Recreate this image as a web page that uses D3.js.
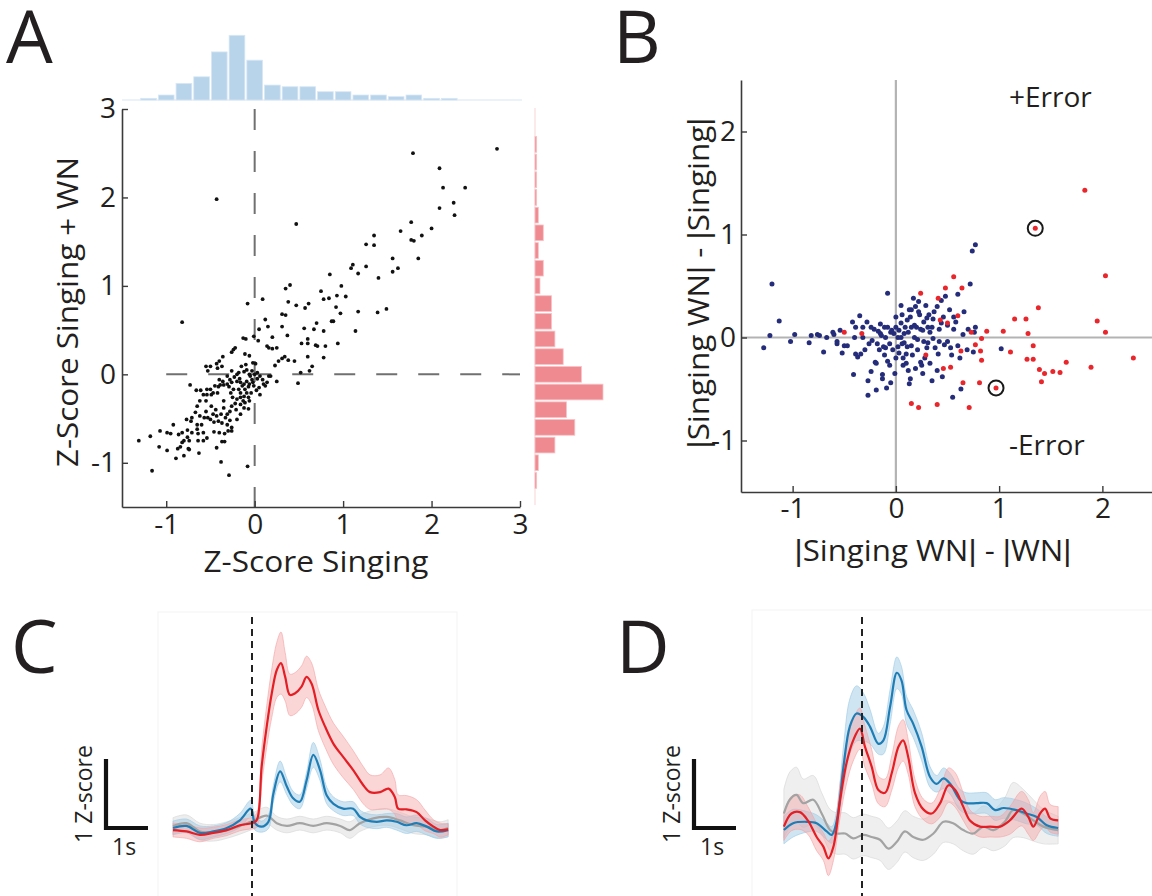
<!DOCTYPE html>
<html>
<head>
  <meta charset="utf-8">
  <script src="https://d3js.org/d3.v7.min.js"></script>
</head>

<style>
body { margin: 0; background: #fff; }
text { font-family: "Open Sans", "Liberation Sans", sans-serif; fill: #231f20; }
.tick text { font-size: 28px; }
.bar { font-family: "Liberation Sans", sans-serif; }
</style>

<body>
</body>

<script>
// ---- panel A : cells, z-score singing vs z-score singing + WN
var scatterA = [
  [2.74,2.55],[1.79,2.50],[2.09,2.33],[2.13,2.11],[2.38,2.11],[2.25,1.94],[2.09,1.88],[2.26,1.80],
  [-0.43,1.98],[0.47,1.70],[1.77,1.72],[1.65,1.62],[2.0,1.65],[1.89,1.57],[1.35,1.57],[1.26,1.47],
  [1.35,1.46],[1.77,1.52],[1.80,1.51],[1.56,1.31],[1.85,1.31],[1.11,1.24],[1.09,1.20],[1.26,1.22],
  [1.62,1.20],[1.56,1.16],[1.17,1.14],[0.85,1.13],[1.40,1.09],[0.98,1.0],[0.40,1.01],[0.35,0.97],
  [0.75,0.94],[0.93,0.89],[1.03,0.88],[0.78,0.85],[0.84,0.86],[0.09,0.85],[0.38,0.82],[-0.08,0.80],
  [0.61,0.80],[0.47,0.78],[0.57,0.75],[0.92,0.76],[1.49,0.74],[1.17,0.71],[1.39,0.70],[0.97,0.69],
  [0.31,0.68],[0.35,0.67],[0.12,0.62],[-0.82,0.59],[0.89,0.60],[0.87,0.60],[0.70,0.58],[0.15,0.54],
  [0.31,0.54],[0.56,0.52],[0.67,0.51],[0.05,0.51],[0.78,0.49],[1.14,0.49],[0.20,0.42],[0.37,0.44],
  [-0.13,0.41],[-0.10,0.40],[-0.01,0.43],[0.60,0.40],[0.04,0.38],[0.53,0.35],[0.60,0.35],[0.94,0.35],
  [0.69,0.33],[0.71,0.32],[0.80,0.32],[0.14,0.32],[0.16,0.30],[0.20,0.29],[0.25,0.30],[-0.22,0.30],
  [-0.24,0.28],[-0.26,0.25],[-0.11,0.23],[-0.06,0.21],[-0.36,0.20],[0.34,0.20],[0.60,0.20],[0.78,0.19],
  [0.31,0.18],[0.27,0.15],[0.38,0.16],[0.45,0.15],[0.65,0.09],[0.23,0.10],[-0.43,0.12],[-0.40,0.15],
  [-0.55,0.09],[-0.50,0.09],[-0.37,0.09],[-0.15,0.09],[-0.02,0.13],[0.01,0.12],[-0.42,0.07],[-0.53,0.04],
  [0.52,0.02],[0.62,0.04],[0.49,-0.10],[0.25,-0.08],[0.16,-0.02],[-0.73,-0.12],
  [-0.66,-0.18],[-0.61,-0.18],[-0.54,-0.17],[-0.58,-0.23],[-0.54,-0.23],[-0.49,-0.23],[-0.42,-0.21],
  [-0.41,-0.14],[-0.39,-0.12],[-0.35,-0.12],[-0.29,-0.14],[-0.26,-0.09],[-0.31,-0.02],[-0.20,0.0],
  [-0.17,-0.05],[-0.12,0.03],[-0.09,0.05],[-0.06,0.0],[-0.03,-0.06],[0.03,-0.05],[0.06,-0.02],
  [0.09,-0.06],[0.12,-0.13],[0.05,-0.15],[0.06,-0.23],[0.02,-0.18],[-0.07,-0.14],[-0.12,-0.11],
  [-0.16,-0.09],[-0.20,-0.08],[-0.24,-0.17],[-0.27,-0.21],[-0.25,-0.26],[-0.20,-0.28],[-0.16,-0.21],
  [-0.12,-0.25],[-0.09,-0.21],[-0.07,-0.26],[-0.11,-0.32],[-0.16,-0.34],[-0.22,-0.33],[-0.26,-0.36],
  [-0.21,-0.40],[-0.28,-0.42],[-0.31,-0.45],[-0.35,-0.38],[-0.35,-0.30],[-0.38,-0.45],[-0.33,-0.49],
  [-0.28,-0.52],[-0.26,-0.60],[-0.31,-0.57],[-0.37,-0.55],[-0.41,-0.53],[-0.46,-0.54],[-0.43,-0.47],
  [-0.47,-0.45],[-0.44,-0.40],[-0.49,-0.36],[-0.55,-0.42],[-0.55,-0.30],[-0.62,-0.30],[-0.65,-0.36],
  [-0.71,-0.49],[-0.72,-0.53],[-0.65,-0.57],[-0.60,-0.57],[-0.58,-0.66],[-0.65,-0.62],[-0.71,-0.66],
  [-0.76,-0.63],[-0.82,-0.66],[-0.92,-0.57],[-0.95,-0.67],[-1.07,-0.64],[-1.18,-0.70],[-1.31,-0.75],
  [-1.08,-0.82],[-0.99,-0.86],[-0.87,-0.84],[-0.89,-0.95],[-1.16,-1.09],[-0.80,-0.92],[-0.75,-0.84],
  [-0.74,-0.75],[-0.80,-0.75],[-0.84,-0.82],[-0.64,-0.75],[-0.63,-0.89],[-0.58,-0.75],[-0.54,-0.72],
  [-0.46,-0.65],[-0.43,-0.83],[-0.37,-0.76],[-0.38,-0.99],[-0.29,-1.14],[-0.08,-1.04],[-0.40,-0.66],
  [-0.34,-0.67],[-0.30,-0.64],[-0.34,-0.76],[-0.26,-0.64],[-0.20,-0.51],[-0.16,-0.45],[-0.12,-0.38],
  [-0.07,-0.39],[-0.06,-0.30],[-0.04,-0.21],[-0.01,-0.13],[-0.11,-0.17],[-0.14,-0.13],[-0.18,-0.17],
  [-0.16,-0.26],[-0.13,-0.30],[-0.09,-0.08],[-0.06,-0.11],[-0.02,-0.09],[0.0,0.0],[-0.03,0.04],
  [0.03,0.02],[0.10,-0.11],[0.14,-0.09],[0.18,-0.02],[-0.47,-0.21],[-0.50,-0.17],[-0.45,-0.13],
  [-0.40,-0.06],[-0.36,-0.08],[-0.31,-0.11],[-0.28,-0.06],[-0.23,-0.03],[-0.18,0.02],[-0.26,0.04],
  [-0.10,0.11],[-0.05,-0.02],[-0.67,-0.43],[-0.62,-0.47],[-0.57,-0.49],[-0.53,-0.49],[-0.50,-0.51],
  [-0.77,-0.51],[-0.64,-0.67],[-0.76,-0.71],[-0.86,-0.68],[-0.82,-0.77],[-0.74,-0.85],[-0.99,-0.66]
];

// marginal histograms (bin width 0.2, first edge -1.3)
var histEdge0 = -1.3, histBin = 0.2;
var histSinging = [1,3,10,14,29,39,24,9,8,8,5,5,3,3,2,3,1,1,0,0,0];
var histSingingWN = [1,2,12,24,19,41,28,17,12,10,10,3,5,2,5,2,1,1,1,1];

var ticksA = [-1, 0, 1, 2, 3];

// ---- panel B : error index
var bRed = [
  [1.83,1.43],[1.35,1.06],[2.03,0.60],[0.56,0.59],[0.48,0.48],[0.64,0.48],[0.24,0.43],[0.41,0.38],
  [1.38,0.29],[0.60,0.21],[1.15,0.18],[1.26,0.18],[1.95,0.16],[0.43,0.17],[0.50,0.14],[1.04,0.06],
  [0.88,0.06],[1.28,0.04],[2.03,0.05],[0.73,0.05],[-0.50,0.05],[-0.33,0.04],[0.83,-0.01],[0.77,-0.07],
  [1.33,-0.08],[0.63,-0.13],[0.82,-0.13],[1.11,-0.14],[2.30,-0.20],[0.29,-0.17],[0.83,-0.22],[1.27,-0.21],
  [1.33,-0.21],[1.65,-0.24],[1.89,-0.29],[0.46,-0.30],[0.53,-0.29],[1.39,-0.31],[1.44,-0.35],[1.52,-0.33],
  [1.59,-0.34],[1.41,-0.43],[0.65,-0.44],[0.81,-0.44],[0.97,-0.49],[0.15,-0.64],[0.22,-0.68],[0.40,-0.65],
  [0.71,-0.68]
];
var bBlue = [
  [-1.20,0.52],[-1.28,-0.10],[-1.22,0.02],[-1.13,0.16],[-1.02,-0.04],[-0.98,0.03],[-0.84,-0.05],[-0.82,0.02],
  [-0.76,0.03],[-0.74,0.02],[-0.70,-0.14],[-0.67,0.0],[-0.61,0.05],[-0.60,0.03],[-0.57,-0.04],[-0.57,-0.06],
  [-0.54,0.07],[-0.52,-0.15],[-0.50,-0.08],[-0.47,-0.08],[-0.42,0.15],[-0.41,-0.36],[-0.40,0.0],[-0.39,-0.16],
  [-0.39,0.10],[-0.37,-0.19],[-0.35,0.21],[-0.34,-0.16],[-0.32,0.10],[-0.32,0.0],[-0.27,-0.42],[-0.27,-0.56],
  [-0.26,-0.06],[-0.24,-0.33],[-0.24,0.10],[-0.23,-0.03],[-0.20,-0.24],[-0.19,-0.25],[-0.19,-0.51],[-0.17,0.06],
  [-0.16,-0.12],[-0.15,0.04],[-0.15,0.13],[-0.13,-0.40],[-0.13,-0.36],[-0.12,-0.09],[-0.11,0.10],[-0.11,-0.17],
  [-0.10,0.0],[-0.09,-0.49],[-0.08,0.43],[-0.08,0.10],[-0.08,-0.23],[-0.06,-0.06],[-0.06,-0.27],[-0.05,-0.44],
  [-0.04,0.07],[-0.03,-0.12],[-0.02,0.04],[0.0,-0.20],[-0.01,-0.35],[0.0,0.10],[0.02,0.0],[0.02,-0.09],
  [0.03,0.07],[0.05,0.14],[0.05,0.31],[0.06,-0.06],[0.07,-0.20],[0.07,-0.27],[0.08,0.04],[0.09,0.10],
  [0.10,-0.16],[0.11,0.17],[0.11,-0.09],[0.12,-0.32],[0.13,0.27],[0.14,-0.40],[0.15,0.10],[0.15,0.27],
  [0.16,-0.17],[0.18,0.0],[0.19,0.30],[0.20,0.10],[0.21,-0.12],[0.22,0.35],[0.23,0.22],[0.24,-0.24],
  [0.25,-0.27],[0.26,0.07],[0.27,-0.04],[0.29,0.31],[0.30,0.19],[0.31,0.10],[0.31,-0.05],[0.33,-0.25],
  [0.35,0.10],[0.36,-0.01],[0.37,0.25],[0.40,0.30],[0.40,-0.32],[0.41,-0.16],[0.42,-0.04],[0.44,0.14],
  [0.44,0.36],[0.45,-0.38],[0.47,-0.07],[0.48,0.40],[0.50,-0.04],[0.52,0.27],[0.54,-0.17],[0.55,-0.58],
  [0.56,0.20],[0.56,0.08],[0.60,0.42],[0.60,-0.08],[0.63,-0.50],[0.65,0.03],[0.69,-0.12],[0.72,0.52],
  [0.74,0.84],[0.77,0.90],[0.77,0.10],[0.76,0.05],[0.75,-0.14],[1.02,-0.11],
  [0.05,0.0],[0.08,-0.05],[0.12,0.05],[0.15,-0.08],[0.18,0.12],[0.21,-0.02],[0.24,0.08],[0.27,0.15],
  [0.30,-0.10],[0.33,0.05],[0.36,0.18],[0.10,-0.25],[0.14,0.20],[0.19,-0.30],[0.22,0.25],[0.28,-0.20],
  [0.32,0.22],[-0.05,0.05],[-0.10,-0.10],[-0.14,0.02],[-0.18,-0.06],[-0.21,0.08],[0.0,0.20],[0.03,-0.15],
  [0.06,0.22],[0.38,-0.10],[0.42,0.08],[0.46,0.20],[0.50,0.12],[0.53,-0.10],[0.58,0.15],[0.62,-0.20],
  [0.66,0.25],[0.70,0.08],[-0.30,-0.12],[-0.28,0.15],[0.13,-0.45],[0.17,0.38],[0.26,-0.35],[0.35,-0.42]
];
var bCircled = [[1.35,1.06],[0.97,-0.49]];
var ticksB = [-1, 0, 1, 2];

// ---- panels C, D : mean z-score traces [time (s), mean, sem]
var cRed = [[-1.88,-0.03,0.1],[-1.56,-0.05,0.1],[-1.24,-0.1,0.1],[-0.92,-0.07,0.08],[-0.6,-0.03,0.08],[-0.29,0.04,0.08],
  [-0.01,0.07,0.08],[0.11,0.11,0.1],[0.23,0.89,0.25],[0.35,1.47,0.3],[0.47,1.95,0.35],[0.59,2.29,0.4],[0.69,2.39,0.45],
  [0.79,2.19,0.35],[0.9,1.93,0.3],[1.02,1.95,0.3],[1.18,2.05,0.3],[1.3,2.19,0.3],[1.42,2.09,0.3],[1.58,1.71,0.3],
  [1.74,1.47,0.3],[1.94,1.22,0.3],[2.17,1.03,0.3],[2.41,0.84,0.28],[2.65,0.62,0.27],[2.81,0.52,0.25],[3.05,0.52,0.25],
  [3.25,0.57,0.3],[3.4,0.45,0.25],[3.48,0.28,0.2],[3.68,0.27,0.2],[3.92,0.23,0.18],[4.12,0.11,0.15],[4.32,0.02,0.1],
  [4.48,-0.03,0.1],[4.67,-0.02,0.08]];
var cBlue = [[-1.88,0,0.1],[-1.56,0.03,0.1],[-1.24,-0.07,0.1],[-0.92,-0.05,0.08],[-0.6,0,0.08],[-0.29,0.11,0.1],
  [-0.03,0.28,0.12],[0.07,0.07,0.1],[0.23,0.02,0.08],[0.39,0.09,0.1],[0.51,0.5,0.12],[0.67,0.82,0.15],[0.83,0.6,0.12],
  [0.98,0.43,0.1],[1.14,0.38,0.1],[1.3,0.69,0.12],[1.46,1.06,0.18],[1.62,0.84,0.15],[1.78,0.47,0.12],[1.94,0.35,0.1],
  [2.17,0.28,0.1],[2.41,0.28,0.1],[2.57,0.16,0.1],[2.73,0.11,0.1],[2.97,0.09,0.1],[3.21,0.11,0.1],[3.44,0.09,0.12],
  [3.68,0.04,0.12],[3.92,0.07,0.12],[4.16,0.02,0.12],[4.4,-0.05,0.1],[4.67,-0.03,0.1]];
var cGray = [[-1.88,0.03,0.12],[-1.56,0.07,0.12],[-1.24,-0.05,0.12],[-0.92,-0.07,0.12],[-0.6,-0.03,0.12],[-0.29,0.03,0.12],
  [0.05,0.11,0.12],[0.35,0.18,0.12],[0.59,0.07,0.1],[0.83,0.03,0.1],[1.14,0.07,0.1],[1.46,0.03,0.1],[1.78,0.07,0.1],
  [2.1,0.03,0.1],[2.33,-0.03,0.12],[2.57,0.07,0.12],[2.89,0.14,0.12],[3.21,0.16,0.12],[3.52,0.11,0.12],[3.84,0.04,0.12],
  [4.16,0.02,0.12],[4.48,-0.03,0.12],[4.67,0,0.12]];

var dBlue = [[-1.86,-0.03,0.2],[-1.64,0.07,0.2],[-1.32,0.09,0.15],[-1.08,0.07,0.12],[-0.84,-0.05,0.12],[-0.72,-0.1,0.12],
  [-0.6,0.11,0.15],[-0.44,0.89,0.3],[-0.29,1.47,0.4],[-0.13,1.66,0.4],[0.03,1.61,0.35],[0.19,1.47,0.25],[0.39,1.22,0.15],
  [0.51,1.27,0.2],[0.67,1.76,0.25],[0.83,2.25,0.23],[0.94,2.14,0.2],[1.06,1.71,0.2],[1.22,1.51,0.2],[1.42,1.18,0.2],
  [1.62,0.74,0.15],[1.78,0.64,0.12],[1.94,0.72,0.15],[2.1,0.64,0.15],[2.33,0.41,0.15],[2.49,0.36,0.15],[2.73,0.36,0.15],
  [2.97,0.36,0.15],[3.17,0.26,0.15],[3.37,0.29,0.15],[3.68,0.26,0.15],[3.92,0.21,0.15],[4.16,0.16,0.12],[4.4,0.04,0.12],
  [4.67,0,0.12]];
var dRed = [[-1.86,0.02,0.2],[-1.68,0.21,0.25],[-1.48,0.23,0.25],[-1.29,0.11,0.2],[-1.08,-0.13,0.2],[-0.92,-0.27,0.2],
  [-0.8,-0.44,0.25],[-0.68,-0.27,0.2],[-0.52,0.41,0.25],[-0.37,0.94,0.3],[-0.21,1.27,0.3],[-0.05,1.44,0.3],[0.07,1.18,0.3],
  [0.23,0.89,0.25],[0.39,0.55,0.2],[0.55,0.51,0.2],[0.71,0.8,0.25],[0.87,1.18,0.3],[0.98,1.27,0.3],[1.1,1.03,0.25],
  [1.26,0.51,0.2],[1.46,0.27,0.15],[1.66,0.21,0.15],[1.86,0.36,0.2],[2.06,0.62,0.25],[2.22,0.55,0.25],[2.41,0.31,0.2],
  [2.57,0.11,0.15],[2.81,0.02,0.15],[3.05,0.02,0.15],[3.29,0.02,0.15],[3.52,0.11,0.2],[3.8,0.28,0.25],[3.96,0.16,0.25],
  [4.08,0.02,0.2],[4.24,0.21,0.25],[4.36,0.28,0.25],[4.48,0.14,0.2],[4.67,0.11,0.2]];
var dGray = [[-1.86,0.21,0.35],[-1.72,0.41,0.4],[-1.56,0.48,0.4],[-1.4,0.36,0.35],[-1.16,0.41,0.35],[-0.96,0.21,0.3],
  [-0.76,-0.03,0.3],[-0.6,-0.08,0.3],[-0.4,-0.08,0.3],[-0.21,-0.15,0.3],[0.03,-0.1,0.3],[0.23,-0.13,0.3],[0.43,-0.17,0.3],
  [0.63,-0.3,0.3],[0.83,-0.2,0.3],[1.02,-0.05,0.3],[1.22,-0.13,0.3],[1.46,-0.17,0.3],[1.7,-0.08,0.3],[1.94,0.09,0.3],
  [2.17,0.07,0.3],[2.41,-0.03,0.3],[2.65,-0.08,0.3],[2.89,0.02,0.3],[3.13,-0.03,0.3],[3.4,0.09,0.35],[3.6,0.26,0.4],
  [3.84,0.21,0.35],[4.08,0.11,0.3],[4.32,0.02,0.25],[4.67,-0.03,0.2]];

var RED = "#e31e24", BLUE = "#1f7db6", NAVY = "#252d7a", GRAY = "#a3a3a3";

var svg = d3.select("body").append("svg")
  .attr("width", 1152)
  .attr("height", 896);

function styleAxis(g) {
  g.select(".domain").attr("stroke", "#3a3a3a").attr("stroke-width", 1.6);
  g.selectAll(".tick line").attr("stroke", "#3a3a3a").attr("stroke-width", 1.4);
  g.selectAll(".tick text").attr("fill", "#231f20").style("font-family", "'Open Sans', sans-serif");
}

// text with narrow "|" glyphs (the Open Sans bar is very wide)
function barText(sel, str) {
  str.split(/(\|)/).forEach(function(s) {
    if (s === "") return;
    sel.append("tspan").text(s).attr("class", s === "|" ? "bar" : null);
  });
  return sel;
}

// panel letters
[["A", 6, 63], ["B", 613, 63], ["C", 11, 673], ["D", 616, 673]].forEach(function(p) {
  svg.append("text").text(p[0]).attr("x", p[1]).attr("y", p[2])
    .style("font-size", "74px");
});

// ================= A =================
var xA = d3.scaleLinear().domain([-1.5, 3]).range([122, 520]);
var yA = d3.scaleLinear().domain([-1.5, 3]).range([507, 109]);
var hScale = d3.scaleLinear().domain([0, 41]).range([0, 68]);

// top histogram
svg.append("line").attr("x1", 122).attr("x2", 522).attr("y1", 100).attr("y2", 100)
  .attr("stroke", "#e6eef7").attr("stroke-width", 1.5);
svg.selectAll(".histTop").data(histSinging).enter().append("rect")
  .attr("x", function(d, i) { return xA(histEdge0 + i * histBin) + 1; })
  .attr("width", function(d, i) { return xA(histEdge0 + (i + 1) * histBin) - xA(histEdge0 + i * histBin) - 2; })
  .attr("y", function(d) { return 100 - hScale(d); })
  .attr("height", function(d) { return hScale(d); })
  .attr("fill", "#b8d4eb")
  .attr("stroke", "#d8e7f4").attr("stroke-width", 0.8);

// right histogram
svg.append("line").attr("x1", 535).attr("x2", 535).attr("y1", 108).attr("y2", 505)
  .attr("stroke", "#fbe3e4").attr("stroke-width", 1.5);
svg.selectAll(".histRight").data(histSingingWN).enter().append("rect")
  .attr("x", 535)
  .attr("y", function(d, i) { return yA(histEdge0 + (i + 1) * histBin) + 1; })
  .attr("height", function(d, i) { return yA(histEdge0 + i * histBin) - yA(histEdge0 + (i + 1) * histBin) - 2; })
  .attr("width", function(d) { return hScale(d); })
  .attr("fill", "#ef8a90")
  .attr("stroke", "#f7c4c7").attr("stroke-width", 0.8);

// dashed zero lines
svg.append("line").attr("x1", xA(0)).attr("x2", xA(0)).attr("y1", yA(3)).attr("y2", yA(-1.5))
  .attr("stroke", "#707070").attr("stroke-width", 2).attr("stroke-dasharray", "21,21");
svg.append("line").attr("x1", xA(-1)).attr("x2", xA(3)).attr("y1", yA(0)).attr("y2", yA(0))
  .attr("stroke", "#707070").attr("stroke-width", 2).attr("stroke-dasharray", "21,21");

svg.append("g").attr("transform", "translate(0,507)")
  .call(d3.axisBottom(xA).tickValues(ticksA).tickFormat(String).tickSizeInner(-6).tickSizeOuter(0).tickPadding(7))
  .call(styleAxis);
svg.append("g").attr("transform", "translate(122,0)")
  .call(d3.axisLeft(yA).tickValues(ticksA).tickFormat(String).tickSizeInner(-6).tickSizeOuter(0).tickPadding(6))
  .call(styleAxis);

svg.selectAll(".dotA").data(scatterA).enter().append("circle")
  .attr("cx", function(d) { return xA(d[0]); })
  .attr("cy", function(d) { return yA(d[1]); })
  .attr("r", 1.9)
  .attr("fill", "#111");

svg.append("text").text("Z-Score Singing")
  .attr("x", 316).attr("y", 572).attr("text-anchor", "middle")
  .attr("textLength", 225).attr("lengthAdjust", "spacingAndGlyphs")
  .style("font-size", "30px");
svg.append("text").text("Z-Score Singing + WN")
  .attr("transform", "translate(78,312) rotate(-90)").attr("text-anchor", "middle")
  .attr("textLength", 310).attr("lengthAdjust", "spacingAndGlyphs")
  .style("font-size", "30px");

// ================= B =================
var xB = d3.scaleLinear().domain([-1.5, 2.5]).range([741, 1154]);
var yB = d3.scaleLinear().domain([-1.5, 2.5]).range([492, 80]);

svg.append("line").attr("x1", xB(0)).attr("x2", xB(0)).attr("y1", yB(2.5)).attr("y2", yB(-1.5))
  .attr("stroke", "#b3b3b3").attr("stroke-width", 2.2);
svg.append("line").attr("x1", xB(-1.5)).attr("x2", xB(2.5)).attr("y1", yB(0)).attr("y2", yB(0))
  .attr("stroke", "#b3b3b3").attr("stroke-width", 2.2);

svg.append("g").attr("transform", "translate(0,492)")
  .call(d3.axisBottom(xB).tickValues(ticksB).tickFormat(String).tickSizeInner(-6).tickSizeOuter(0).tickPadding(6))
  .call(styleAxis);
svg.append("g").attr("transform", "translate(741,0)")
  .call(d3.axisLeft(yB).tickValues(ticksB).tickFormat(String).tickSizeInner(-6).tickSizeOuter(0).tickPadding(5))
  .call(styleAxis);

svg.selectAll(".dotBlue").data(bBlue).enter().append("circle")
  .attr("cx", function(d) { return xB(d[0]); })
  .attr("cy", function(d) { return yB(d[1]); })
  .attr("r", 2.5).attr("fill", NAVY);
svg.selectAll(".dotRed").data(bRed).enter().append("circle")
  .attr("cx", function(d) { return xB(d[0]); })
  .attr("cy", function(d) { return yB(d[1]); })
  .attr("r", 2.5).attr("fill", "#e8262b");
svg.selectAll(".ring").data(bCircled).enter().append("circle")
  .attr("cx", function(d) { return xB(d[0]); })
  .attr("cy", function(d) { return yB(d[1]); })
  .attr("r", 7.5).attr("fill", "none").attr("stroke", "#1a1a1a").attr("stroke-width", 2);

svg.append("text").text("+Error").attr("x", 1009).attr("y", 107).style("font-size", "28px");
svg.append("text").text("-Error").attr("x", 1009).attr("y", 455).style("font-size", "28px");

svg.append("text")
  .attr("x", 933).attr("y", 561).attr("text-anchor", "middle")
  .attr("textLength", 277).attr("lengthAdjust", "spacingAndGlyphs")
  .style("font-size", "30px")
  .call(barText, "|Singing WN| - |WN|");
svg.append("text")
  .attr("transform", "translate(709,283) rotate(-90)").attr("text-anchor", "middle")
  .attr("textLength", 331).attr("lengthAdjust", "spacingAndGlyphs")
  .style("font-size", "30px")
  .call(barText, "|Singing WN| - |Singing|");

// ================= C, D =================
function tracePanel(box, t0x, bar, traces) {
  var x = d3.scaleLinear().domain([0, 1]).range([t0x, t0x + 42]);
  var y = d3.scaleLinear().domain([0, 1]).range([828, 759]);

  svg.append("rect").attr("x", box[0]).attr("y", box[1]).attr("width", box[2]).attr("height", box[3])
    .attr("fill", "none").attr("stroke", "#f3f3f3").attr("stroke-width", 1);

  var area = d3.area().curve(d3.curveCatmullRom.alpha(0.5))
    .x(function(d) { return x(d[0]); })
    .y0(function(d) { return y(d[1] - d[2]); })
    .y1(function(d) { return y(d[1] + d[2]); });
  var line = d3.line().curve(d3.curveCatmullRom.alpha(0.5))
    .x(function(d) { return x(d[0]); })
    .y(function(d) { return y(d[1]); });

  traces.forEach(function(tr) {
    svg.append("path").datum(tr.data).attr("d", area)
      .attr("fill", tr.band).attr("fill-opacity", tr.op)
      .attr("stroke", tr.band).attr("stroke-opacity", 0.8).attr("stroke-width", 0.8);
  });
  traces.forEach(function(tr) {
    svg.append("path").datum(tr.data).attr("d", line)
      .attr("fill", "none").attr("stroke", tr.color).attr("stroke-width", 2.2);
  });

  // stimulus onset
  svg.append("line").attr("x1", x(0)).attr("x2", x(0)).attr("y1", 617).attr("y2", 896)
    .attr("stroke", "#222").attr("stroke-width", 2).attr("stroke-dasharray", "7,5");

  // scale bar: 1 z-score, 1 s
  svg.append("path")
    .attr("d", "M" + bar + "," + y(1) + "V" + y(0) + "H" + (bar + (x(1) - x(0))))
    .attr("fill", "none").attr("stroke", "#111").attr("stroke-width", 4.2);
  svg.append("text").text("1 Z-score")
    .attr("transform", "translate(" + (bar - 14) + "," + 794 + ") rotate(-90)")
    .attr("text-anchor", "middle").style("font-size", "23px");
  svg.append("text").text("1s").attr("x", bar + 6).attr("y", 855).style("font-size", "23px");
}

tracePanel([158, 612, 299, 290], 252, 106, [
  { data: cGray, color: GRAY, band: "#d6d6d6", op: 0.45 },
  { data: cBlue, color: BLUE, band: "#9fcbe6", op: 0.5 },
  { data: cRed, color: RED, band: "#f4a3a6", op: 0.45 }
]);
tracePanel([752, 610, 420, 290], 862, 694, [
  { data: dGray, color: GRAY, band: "#d6d6d6", op: 0.4 },
  { data: dBlue, color: BLUE, band: "#9fcbe6", op: 0.5 },
  { data: dRed, color: RED, band: "#f4a3a6", op: 0.45 }
]);
</script>
</html>
